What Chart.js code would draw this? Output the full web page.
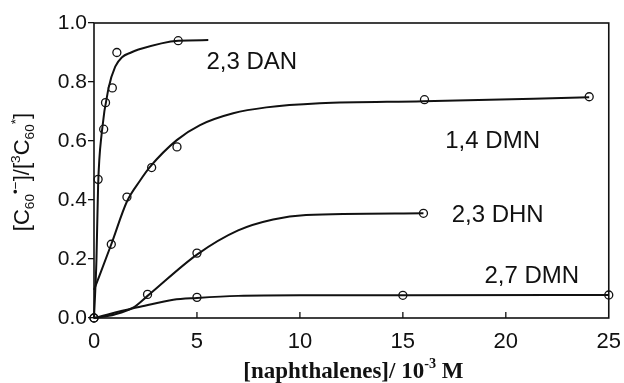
<!DOCTYPE html>
<html>
<head>
<meta charset="utf-8">
<script src="https://cdn.jsdelivr.net/npm/chart.js@4/dist/chart.umd.min.js"></script>
<style>
  html, body { margin: 0; padding: 0; background: #fff; }
  #wrap { width: 624px; height: 383px; }
</style>
</head>
<body>
<div id="wrap"><canvas id="c" width="624" height="383"></canvas></div>
<script>
// Measured points: concentration (10^-3 M) and radical anion / triplet ratio
const danConc  = [0.2, 0.47, 0.56, 0.89, 1.11, 4.09];
const danRatio = [0.47, 0.64, 0.73, 0.78, 0.90, 0.94];

const dmn14Conc  = [0.84, 1.6, 2.8, 4.03, 16.05, 24.05];
const dmn14Ratio = [0.25, 0.41, 0.51, 0.58, 0.74, 0.75];

const dhnConc  = [0, 2.6, 5.0, 16.0];
const dhnRatio = [0, 0.08, 0.22, 0.355];

const dmn27Conc  = [0, 5.0, 15.0, 25.0];
const dmn27Ratio = [0, 0.07, 0.077, 0.078];

// Hand-drawn fit curves, traced as a few guide points each
const danFitX  = [0, 0.12, 0.2, 0.38, 0.71, 1.03, 1.36, 1.8, 2.16, 4.1, 5.55];
const danFitY  = [0, 0.2, 0.45, 0.63, 0.78, 0.852, 0.884, 0.9, 0.91, 0.94, 0.942];

const dmn14FitX = [0, 0.84, 1.6, 2.24, 2.73, 4.02, 5.15, 6.76, 8.37, 10.96, 16.0, 24.05];
const dmn14FitY = [0.095, 0.25, 0.395, 0.466, 0.513, 0.603, 0.654, 0.694, 0.714, 0.728, 0.735, 0.748];

const dhnFitX = [0, 1.0, 1.9, 2.6, 5.0, 7.0, 8.7, 10.3, 16.0];
const dhnFitY = [0, 0.012, 0.035, 0.075, 0.215, 0.297, 0.334, 0.349, 0.355];

const dmn27FitX = [0, 1.9, 2.24, 3.85, 5.0, 7.0, 10.0, 15.0, 25.0];
const dmn27FitY = [0, 0.033, 0.038, 0.062, 0.068, 0.075, 0.077, 0.077, 0.078];

// Axis ticks
const xTicks = [0, 5, 10, 15, 20, 25];
const yTicks = [0.0, 0.2, 0.4, 0.6, 0.8, 1.0];

// Series names written beside the curves, anchored in data units (left edge, baseline)
const seriesNames = ['2,3 DAN', '1,4 DMN', '2,3 DHN', '2,7 DMN'];
const nameAtX = [5.46, 17.06, 17.37, 18.96];
const nameAtY = [0.843, 0.575, 0.326, 0.118];

const INK = '#111';
const SANS = '"Liberation Sans", Arial, Helvetica, sans-serif';
const SERIF = '"Liberation Serif", "Times New Roman", serif';

const pairs = (xs, ys) => xs.map((x, i) => ({ x: x, y: ys[i] }));

function curve(xs, ys) {
  return {
    data: pairs(xs, ys),
    showLine: true,
    borderColor: INK,
    borderWidth: 2,
    pointRadius: 0,
    cubicInterpolationMode: 'monotone',
    clip: false
  };
}
function marks(xs, ys) {
  return {
    data: pairs(xs, ys),
    showLine: false,
    pointRadius: 4,
    pointBorderWidth: 1.3,
    pointBorderColor: INK,
    pointBackgroundColor: 'rgba(255,255,255,0)',
    clip: false
  };
}

// Draws a run of text pieces with sub/superscripts; returns total width
function richText(ctx, parts, x, y, size, family, weight, measureOnly) {
  let cx = x;
  for (const [t, kind] of parts) {
    const s = kind === 'n' ? size : size * 0.62;
    const dy = kind === 'sub' ? size * 0.22 : (kind === 'sup' ? -size * 0.42 : 0);
    ctx.font = weight + ' ' + s + 'px ' + family;
    const w = ctx.measureText(t).width;
    if (!measureOnly) ctx.fillText(t, cx, y + dy);
    cx += w;
  }
  return cx - x;
}

const decor = {
  id: 'decor',
  afterDatasetsDraw(chart) {
    const ctx = chart.ctx;
    const a = chart.chartArea;
    const xs = chart.scales.x, ys = chart.scales.y;
    ctx.save();
    ctx.strokeStyle = INK;
    ctx.fillStyle = INK;

    // plot frame
    ctx.lineWidth = 1.6;
    ctx.strokeRect(a.left, a.top, a.right - a.left, a.bottom - a.top);

    // inward tick marks on the concentration axis
    ctx.lineWidth = 1.3;
    ctx.beginPath();
    xs.ticks.forEach(t => {
      const px = xs.getPixelForValue(t.value);
      if (px > a.left + 2 && px < a.right - 2) {
        ctx.moveTo(px, a.bottom);
        ctx.lineTo(px, a.bottom - 6);
      }
    });
    ctx.stroke();

    // series names
    ctx.font = '24px ' + SANS;
    ctx.textAlign = 'left';
    ctx.textBaseline = 'alphabetic';
    seriesNames.forEach((n, i) => {
      ctx.fillText(n, xs.getPixelForValue(nameAtX[i]), ys.getPixelForValue(nameAtY[i]));
    });

    // x-axis title
    const xParts = [['[naphthalenes]/ 10', 'n'], ['-3', 'sup'], [' M', 'n']];
    const xw = richText(ctx, xParts, 0, 0, 23, SERIF, 'bold', true);
    richText(ctx, xParts, (a.left + a.right) / 2 + 2 - xw / 2, 378, 23, SERIF, 'bold', false);

    // y-axis title, rotated
    const yParts = [['[C', 'n'], ['60', 'sub'], ['\u2022', 'sup'], ['\u2212', 'sup'], [']/[', 'n'],
                    ['3', 'sup'], ['C', 'n'], ['60', 'sub'], ['*', 'sup'], [']', 'n']];
    const yw = richText(ctx, yParts, 0, 0, 22, SANS, 'normal', true);
    ctx.translate(29, 172);
    ctx.rotate(-Math.PI / 2);
    richText(ctx, yParts, -yw / 2, 0, 22, SANS, 'normal', false);
    ctx.restore();
  }
};

new Chart(document.getElementById('c'), {
  type: 'scatter',
  data: {
    datasets: [
      curve(danFitX, danFitY), marks(danConc, danRatio),
      curve(dmn14FitX, dmn14FitY), marks(dmn14Conc, dmn14Ratio),
      curve(dhnFitX, dhnFitY), marks(dhnConc, dhnRatio),
      curve(dmn27FitX, dmn27FitY), marks(dmn27Conc, dmn27Ratio)
    ]
  },
  options: {
    responsive: false,
    animation: false,
    devicePixelRatio: 1,
    layout: { padding: { top: 23, right: 13, left: 0, bottom: 0 } },
    plugins: { legend: { display: false }, tooltip: { enabled: false } },
    scales: {
      x: {
        type: 'linear',
        min: 0, max: 25,
        afterBuildTicks: s => { s.ticks = xTicks.map(v => ({ value: v })); },
        afterFit: s => { s.height = 65; },
        border: { display: false },
        grid: { display: false },
        ticks: {
          color: INK,
          padding: 3,
          font: { family: SANS, size: 22 },
          callback: v => String(v)
        }
      },
      y: {
        type: 'linear',
        min: 0, max: 1,
        afterBuildTicks: s => { s.ticks = yTicks.map(v => ({ value: v })); },
        afterFit: s => { s.width = 94; },
        border: { display: false },
        grid: { drawOnChartArea: false, drawTicks: true, tickLength: 6, color: INK, lineWidth: 1.3 },
        ticks: {
          color: INK,
          padding: 1,
          font: { family: SANS, size: 21 },
          callback: v => v.toFixed(1)
        }
      }
    }
  },
  plugins: [decor]
});
</script>
</body>
</html>
